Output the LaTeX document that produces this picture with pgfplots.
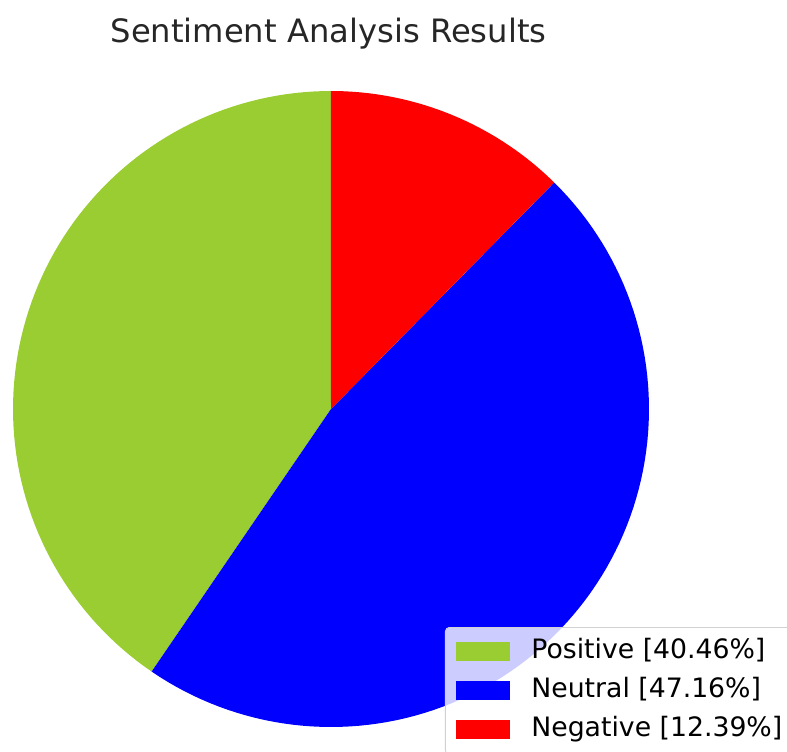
\documentclass[border=0pt]{standalone}
\usepackage{fontspec}
\setmainfont{DejaVu Sans}
\usepackage{pgfplots}
\usepackage{pgfplotstable}
\pgfplotsset{compat=1.18}

\definecolor{posgreen}{RGB}{154,205,50}
\definecolor{neublue}{RGB}{0,0,255}
\definecolor{negred}{RGB}{255,0,0}

% share of each sentiment, in percent
\pgfplotstableread{
label     pct
Positive  40.46
Neutral   47.16
Negative  12.39
}\sentiment

\begin{document}
\begin{tikzpicture}
\path[use as bounding box] (0,0) rectangle (393.5pt,375.5pt);
\clip (0,0) rectangle (393.5pt,375.5pt);
\begin{axis}[
    at={(0,0)}, anchor=south west,
    scale only axis,
    width=393.5pt, height=375.5pt,
    xmin=0, xmax=787, ymin=0, ymax=751,
    hide axis,
    clip=false,
    legend style={
        at={(0.5654,0.1651)}, anchor=north west,
        font=\fontsize{13.35}{15}\selectfont,
        draw=black!18, fill=white, fill opacity=0.8, text opacity=1,
        rounded corners=2pt,
        inner xsep=5.5pt, inner ysep=6pt,
        row sep=7pt,
        nodes={inner sep=0pt, text height=9.7pt, text depth=2.8pt},
        /tikz/every odd column/.append style={column sep=10.5pt},
    },
    legend cell align=left,
    legend image code/.code={\fill[#1, sharp corners, fill opacity=1] (0pt,-4.75pt) rectangle (27pt,4.75pt);},
]
\pgfplotstablegetelem{0}{pct}\of\sentiment \let\pA\pgfplotsretval
\pgfplotstablegetelem{1}{pct}\of\sentiment \let\pB\pgfplotsretval
\pgfplotstablegetelem{2}{pct}\of\sentiment \let\pC\pgfplotsretval
\pgfmathsetmacro{\aA}{90}
\pgfmathsetmacro{\aB}{\aA+3.6*\pA}
\pgfmathsetmacro{\aC}{\aB+3.6*\pB}
\pgfmathsetmacro{\aD}{\aC+3.6*\pC}
\def\cx{331}\def\cy{342}\def\rad{318}

\addplot[fill=posgreen, draw=none, domain=\aA:\aB, samples=90, variable=\ang]
    ({\cx+\rad*cos(\ang)},{\cy+\rad*sin(\ang)}) -- (axis cs:\cx,\cy) -- cycle;
\addlegendentry{Positive [\pA\%]}
\addplot[fill=neublue, draw=none, domain=\aB:\aC, samples=100, variable=\ang]
    ({\cx+\rad*cos(\ang)},{\cy+\rad*sin(\ang)}) -- (axis cs:\cx,\cy) -- cycle;
\addlegendentry{Neutral [\pB\%]}
\addplot[fill=negred, draw=none, domain=\aC:\aD, samples=40, variable=\ang]
    ({\cx+\rad*cos(\ang)},{\cy+\rad*sin(\ang)}) -- (axis cs:\cx,\cy) -- cycle;
\addlegendentry{Negative [\pC\%]}

\node[anchor=base, font=\fontsize{16.1}{19}\selectfont, text=black!85]
    at (axis cs:328.5,708) {Sentiment Analysis Results};
\end{axis}
\end{tikzpicture}
\end{document}
